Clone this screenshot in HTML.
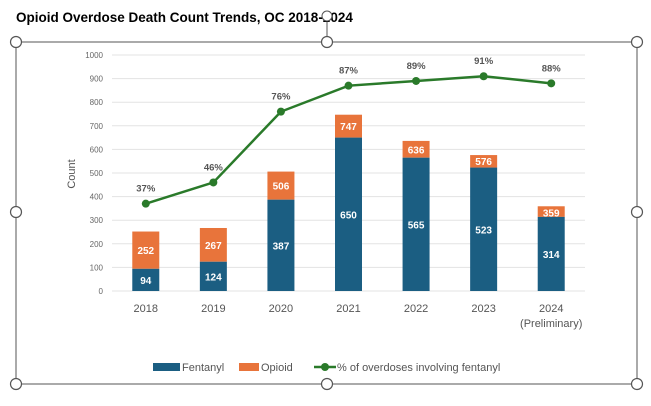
<!DOCTYPE html>
<html><head><meta charset="utf-8"><style>
body{margin:0;background:#fff;width:651px;height:401px;overflow:hidden;font-family:"Liberation Sans",sans-serif}
</style></head><body>
<svg width="651" height="401" font-family="Liberation Sans, sans-serif">
<text x="16" y="22" font-size="13.5" font-weight="bold" fill="#000">Opioid Overdose Death Count Trends, OC 2018-2024</text>
<line x1="327" y1="22" x2="327" y2="42" stroke="#555"/>
<circle cx="327" cy="16" r="5" fill="#fff" stroke="#555"/>
<rect x="16" y="42" width="621" height="342" fill="#fff" stroke="#555"/>
<g id="grid"></g><g id="bars"></g><g id="line"></g>
<text transform="translate(75,174) rotate(-90)" font-size="11" fill="#555" text-anchor="middle">Count</text>
<g font-size="11" fill="#555">
<rect x="153" y="363" width="27" height="8" fill="#1b5e82"/>
<text x="182" y="371">Fentanyl</text>
<rect x="239" y="363" width="20" height="8" fill="#e8743b"/>
<text x="261" y="371">Opioid</text>
<line x1="314" y1="367" x2="336" y2="367" stroke="#2a7a2a" stroke-width="2.5"/>
<circle cx="325" cy="367" r="4" fill="#2a7a2a"/>
<text x="337" y="371">% of overdoses involving fentanyl</text>
</g>
<g id="handles"></g>
</svg>
<script>
const categories=["2018","2019","2020","2021","2022","2023","2024"];
const fentanyl=[94,124,387,650,565,523,314];
const opioid=[252,267,506,747,636,576,359];
const pct=[37,46,76,87,89,91,88];
const yTicks=[0,100,200,300,400,500,600,700,800,900,1000];
const NS="http://www.w3.org/2000/svg";
const x0=112,x1=585,yb=291,yt=55;
const xs=i=>x0+(x1-x0)/categories.length*(i+0.5);
const ys=v=>yb-(yb-yt)*v/1000;
const yp=p=>ys(p*10);
function mk(tag,attrs,parent,txt){const e=document.createElementNS(NS,tag);for(const k in attrs)e.setAttribute(k,attrs[k]);if(txt!==undefined)e.textContent=txt;parent.appendChild(e);return e;}
const grid=document.getElementById('grid'),bars=document.getElementById('bars'),line=document.getElementById('line');
yTicks.forEach(t=>{
 const l=mk('line',{x1:x0,x2:x1,y1:ys(t),y2:ys(t),stroke:'#e3e3e3'},grid);
 
 
 const tx=mk('text',{x:103,y:ys(t)+3,'font-size':8,fill:'#666','text-anchor':'end'},grid,t);
 
 
});
const bw=27;
categories.forEach((c,i)=>{
 const cx=xs(i);
 const ro=mk('rect',{x:cx-bw/2,y:ys(opioid[i]),width:bw,height:ys(fentanyl[i])-ys(opioid[i]),fill:'#e8743b'},bars);
 
 
 const rf=mk('rect',{x:cx-bw/2,y:ys(fentanyl[i]),width:bw,height:yb-ys(fentanyl[i]),fill:'#1b5e82'},bars);
 
 
 const lf=mk('text',{x:cx,y:(ys(fentanyl[i])+yb)/2+4,'font-size':10,'font-weight':'bold',fill:'#fff','text-anchor':'middle'},bars,fentanyl[i]);
 
 
 const oy=(opioid[i]-fentanyl[i])>60?(ys(opioid[i])+ys(fentanyl[i]))/2+4:ys(opioid[i])+10;
 const lo=mk('text',{x:cx,y:oy,'font-size':10,'font-weight':'bold',fill:'#fff','text-anchor':'middle'},bars,opioid[i]);
 
 
 const xl=mk('text',{x:cx,y:312,'font-size':11,fill:'#555','text-anchor':'middle'},bars,c);
 
 
});
const sub=mk('text',{x:xs(6),y:327,'font-size':11,fill:'#555','text-anchor':'middle'},bars,'(Preliminary)');


const pl=mk('polyline',{points:pct.map((p,i)=>xs(i)+','+yp(p)).join(' '),fill:'none',stroke:'#2a7a2a','stroke-width':2.5},line);


pct.forEach((p,i)=>{
 const d=mk('circle',{cx:xs(i),cy:yp(p),r:4,fill:'#2a7a2a'},line);
 
 
 const t=mk('text',{x:xs(i),y:yp(p)-12,'font-size':9.5,'font-weight':'bold',fill:'#555','text-anchor':'middle'},line,p+'%');
 
 
});
const hg=document.getElementById('handles');
[[16,42],[327,42],[637,42],[16,212],[637,212],[16,384],[327,384],[637,384]].forEach(([x,y],k)=>{
 const h=mk('circle',{cx:x,cy:y,r:5.5,fill:'#fff',stroke:'#555','stroke-width':1.2},hg);
 
 
});
</script>
</body></html>
